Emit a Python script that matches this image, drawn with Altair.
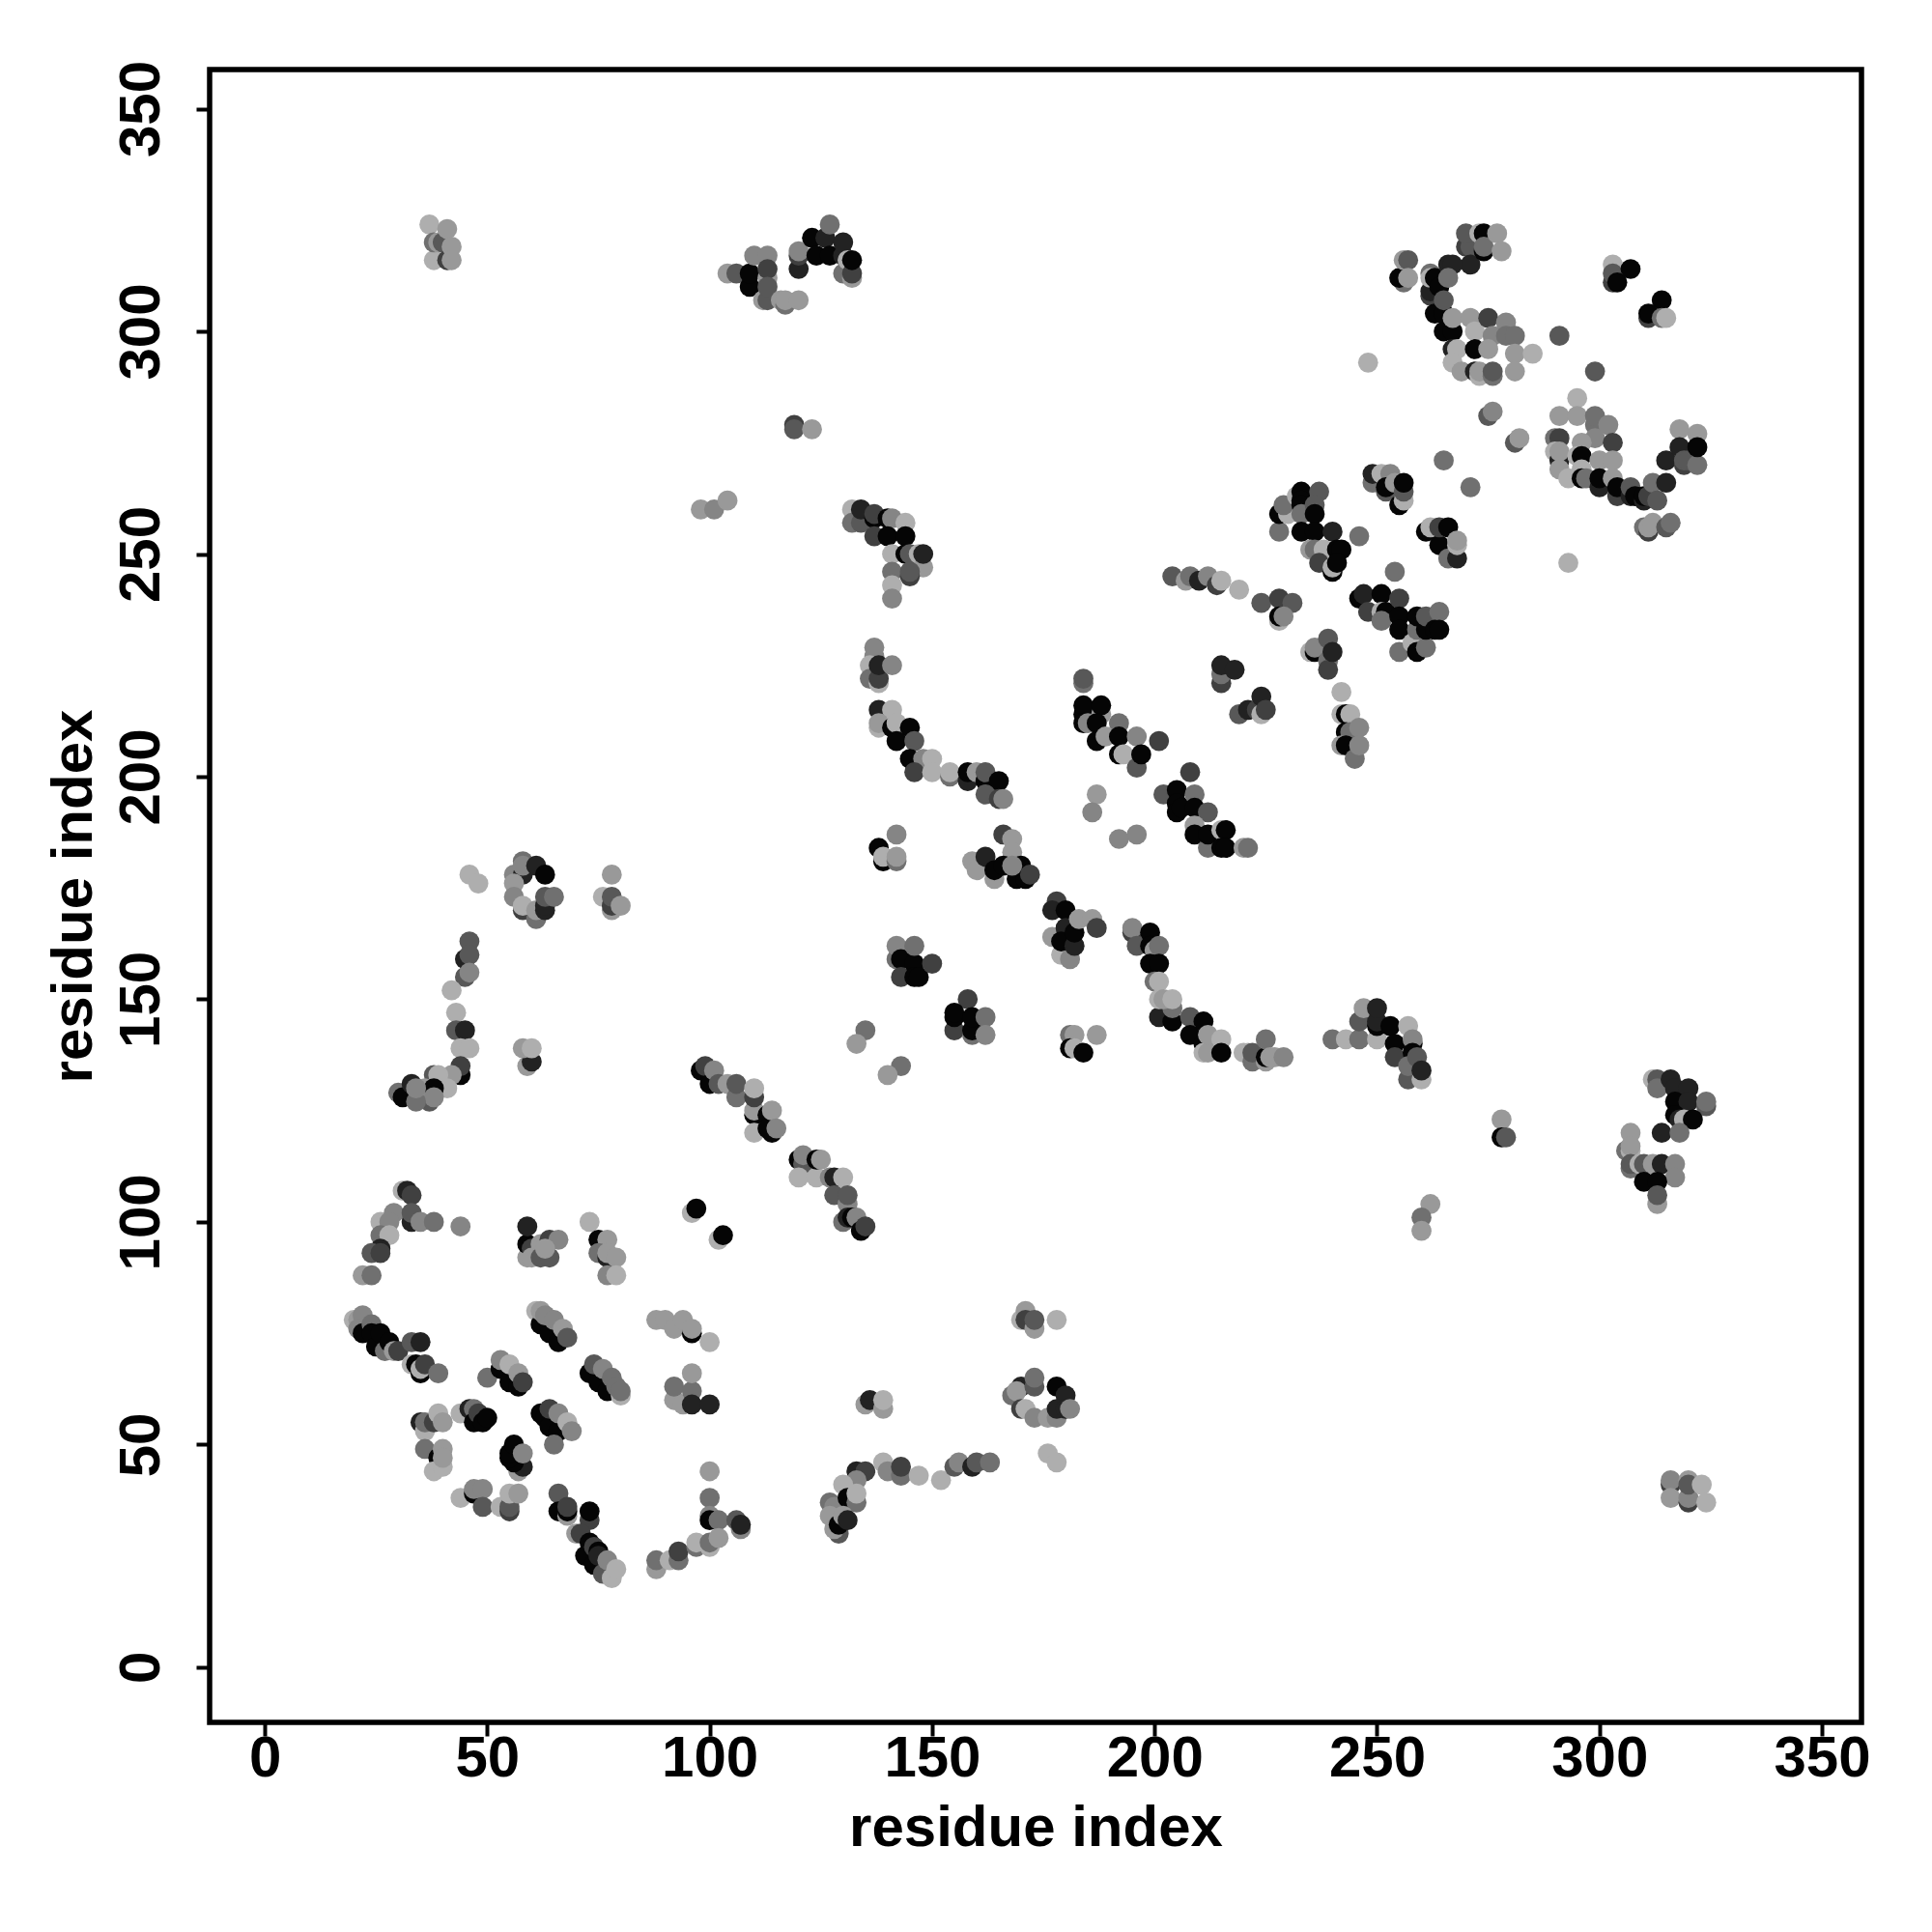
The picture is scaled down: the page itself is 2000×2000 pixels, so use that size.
import altair as alt
import pandas as pd

SHADES = {"a": "#050505", "b": "#222222", "c": "#404040", "d": "#585858",
          "e": "#707070", "f": "#858585", "g": "#999999", "h": "#aeaeae"}
TICKS = [0, 50, 100, 150, 200, 250, 300, 350]

lower_left = [
 (26,100,'h'),(29,102,'f'),(28,100,'f'),(26,97,'e'),(28,97,'h'),(26,94,'b'),(24,93,'d'),(26,93,'c'),(22,88,'g'),(24,88,'e'),
 (31,107,'h'),(32,107,'b'),(33,106,'c'),(33,100,'b'),(33,102,'d'),(35,100,'f'),(38,100,'e'),(44,99,'f'),
 (59,92,'g'),(59,95,'a'),(60,94,'c'),(59,99,'b'),(60,92,'g'),(62,95,'g'),(64,96,'c'),(66,96,'f'),(62,92,'d'),(64,92,'d'),(63,94,'g'),
 (73,100,'h'),(75,96,'a'),(77,96,'g'),(75,93,'e'),(77,92,'b'),(77,93,'g'),(79,92,'g'),(77,88,'f'),(79,88,'h'),
 (20,78,'h'),(21,78,'g'),(22,79,'f'),(21,76,'f'),(22,75,'a'),(24,77,'e'),(24,75,'a'),(25,72,'a'),(26,75,'a'),(27,71,'e'),(28,73,'a'),(29,71,'g'),(30,71,'c'),
 (33,73,'d'),(35,73,'b'),(33,68,'h'),(34,68,'a'),(35,66,'a'),(35,67,'h'),(36,68,'c'),(39,66,'e'),
 (50,65,'e'),(53,67,'a'),(55,64,'a'),(57,63,'a'),(53,69,'f'),(55,68,'h'),(57,66,'g'),(58,64,'c'),
 (61,80,'h'),(62,77,'a'),(64,75,'a'),(66,73,'a'),(62,80,'g'),(63,79,'f'),(65,78,'f'),(67,76,'g'),(68,74,'d'),
 (73,66,'a'),(75,64,'a'),(77,62,'a'),(74,68,'d'),(76,67,'f'),(78,65,'e'),(80,61,'h'),(79,63,'e'),(80,62,'e'),
 (44,57,'h'),(46,58,'b'),(47,58,'e'),(47,55,'a'),(48,57,'c'),(49,55,'a'),(50,56,'a'),
 (35,55,'b'),(36,53,'h'),(36,55,'e'),(38,55,'c'),(39,57,'h'),(40,55,'g'),
 (36,49,'e'),(39,47,'a'),(38,44,'h'),(40,45,'h'),(40,49,'g'),(40,47,'g'),
 (57,44,'g'),(58,45,'b'),(56,46,'a'),(55,47,'a'),(55,48,'a'),(56,50,'a'),(58,48,'f'),
 (62,57,'a'),(63,56,'a'),(64,54,'a'),(66,53,'a'),(65,50,'e'),(64,58,'c'),(66,57,'f'),(68,55,'h'),(69,53,'f'),
 (44,38,'h'),(47,39,'a'),(47,40,'f'),(49,40,'f'),(49,36,'d'),(53,36,'h'),(55,35,'c'),(55,36,'d'),(55,39,'h'),(57,39,'g'),
 (66,39,'d'),(66,35,'a'),(68,34,'g'),(68,35,'a'),(68,36,'c'),(73,33,'c'),(73,35,'a'),
 (70,30,'g'),(71,30,'c'),(72,25,'a'),(73,28,'a'),(74,27,'c'),(74,23,'a'),(75,26,'a'),(75,25,'b'),(76,21,'d'),(77,24,'f'),(78,20,'h'),(79,22,'h'),
 (88,22,'g'),(88,24,'e'),(91,24,'h'),(93,24,'e'),(93,26,'c'),(97,27,'e'),(97,28,'h'),
]

lower_mid = [
 (96,102,'h'),(97,103,'a'),(102,96,'h'),(103,97,'a'),
 (88,78,'g'),(90,78,'g'),(92,76,'g'),(94,78,'g'),(96,75,'a'),(96,76,'g'),(100,73,'h'),
 (92,60,'g'),(92,63,'e'),(94,59,'g'),(96,62,'e'),(96,59,'b'),(96,66,'g'),(100,59,'b'),
 (100,44,'g'),(100,38,'e'),(100,34,'f'),(100,33,'a'),(102,33,'e'),
 (100,27,'h'),(100,28,'e'),(102,29,'g'),(106,33,'d'),(107,31,'f'),(107,32,'b'),
 (135,59,'g'),(136,60,'b'),(139,58,'g'),(139,60,'h'),
 (133,44,'b'),(135,44,'c'),(133,42,'f'),(130,41,'h'),(127,37,'e'),(128,36,'f'),(131,38,'a'),(133,37,'e'),(133,39,'h'),
 (127,34,'g'),(129,30,'d'),(128,31,'g'),(129,32,'a'),(130,34,'g'),(131,33,'b'),
 (139,46,'h'),(140,44,'f'),(143,43,'e'),(143,45,'c'),(147,43,'h'),(152,42,'h'),(155,45,'d'),(156,46,'f'),(159,45,'b'),(160,46,'d'),(163,46,'e'),
 (170,78,'h'),(171,80,'g'),(171,78,'c'),(173,76,'g'),(173,78,'d'),(178,78,'h'),
 (168,61,'e'),(170,63,'b'),(169,62,'g'),(170,58,'c'),(171,58,'h'),(173,63,'d'),(173,65,'e'),(173,56,'f'),(176,56,'g'),
 (178,63,'a'),(180,61,'b'),(178,56,'f'),(178,58,'b'),(180,58,'b'),(181,58,'f'),(176,48,'h'),(178,46,'h'),
]

left_mid = [
 (46,178,'h'),(48,176,'h'),(56,178,'f'),(58,181,'e'),(58,178,'b'),(58,180,'f'),(61,180,'b'),(63,178,'a'),(56,176,'g'),(56,173,'f'),(58,170,'c'),(58,171,'h'),
 (61,168,'e'),(61,170,'g'),(63,170,'b'),(63,171,'b'),(63,173,'d'),(65,173,'e'),
 (78,178,'g'),(76,173,'h'),(78,170,'g'),(78,171,'c'),(78,173,'d'),(80,171,'g'),
 (46,163,'d'),(45,159,'b'),(46,160,'d'),(45,155,'d'),(46,156,'f'),(42,152,'h'),(43,147,'h'),(43,143,'d'),(45,143,'b'),(44,139,'h'),(46,139,'h'),
 (44,133,'a'),(44,135,'c'),(42,133,'g'),(41,130,'h'),(38,133,'d'),(39,133,'h'),(37,127,'d'),(36,130,'g'),(38,130,'a'),(38,128,'f'),
 (30,129,'e'),(31,128,'a'),(33,131,'b'),(34,127,'e'),(34,130,'f'),
 (59,135,'g'),(60,136,'b'),(58,139,'g'),(60,139,'h'),
]

diagonal = [
 (98,134,'a'),(99,135,'c'),(100,131,'a'),(101,134,'f'),(102,131,'d'),(104,131,'g'),(106,128,'e'),(106,131,'d'),(110,124,'a'),(110,125,'g'),(110,128,'c'),(110,130,'h'),
 (110,120,'h'),(113,124,'a'),(114,120,'a'),(113,121,'a'),(114,125,'g'),(115,121,'f'),
 (120,114,'a'),(121,113,'d'),(121,115,'f'),(120,110,'h'),(124,110,'h'),(124,114,'a'),(125,114,'g'),(127,110,'f'),(128,110,'b'),(130,110,'h'),
 (128,106,'d'),(131,104,'f'),(131,106,'d'),(130,100,'e'),(131,101,'b'),(132,101,'a'),(133,101,'f'),(134,98,'a'),(135,99,'c'),
]

top = [
 (104,313,'g'),(106,313,'d'),(109,310,'a'),(109,313,'a'),(110,317,'f'),(113,317,'f'),(113,312,'g'),(113,314,'c'),(112,307,'g'),(113,307,'d'),(113,310,'d'),
 (116,307,'g'),(117,306,'e'),(117,307,'g'),(120,307,'g'),(120,314,'b'),(120,317,'c'),(120,318,'f'),(123,321,'a'),(124,317,'a'),(126,321,'b'),(127,317,'a'),(127,324,'e'),
 (130,317,'b'),(130,320,'b'),(130,313,'e'),(132,312,'g'),(131,316,'h'),(132,313,'c'),(132,316,'a'),
 (37,324,'h'),(38,316,'h'),(38,320,'e'),(39,320,'g'),(40,320,'d'),(41,316,'c'),(41,323,'g'),(42,319,'g'),(42,316,'g'),
 (316,41,'c'),(316,42,'f'),(316,38,'g'),(320,42,'g'),(320,37,'c'),(320,38,'f'),(320,41,'d'),(323,41,'h'),(324,37,'h'),
]

centre = [
 (98,260,'g'),(101,260,'f'),(104,262,'g'),(119,279,'c'),(119,278,'d'),(123,278,'g'),
 (132,260,'h'),(132,257,'e'),(134,257,'d'),(134,260,'b'),(137,258,'a'),(137,259,'c'),(140,258,'a'),(141,258,'f'),(144,257,'h'),(137,254,'c'),(140,254,'a'),(144,254,'a'),
 (141,250,'h'),(144,250,'a'),(145,250,'d'),(147,250,'h'),(148,247,'g'),(148,250,'b'),(141,246,'e'),(145,245,'c'),(145,246,'d'),(141,243,'h'),(141,240,'f'),
 (137,227,'f'),(137,229,'f'),(136,225,'h'),(136,222,'e'),(138,221,'h'),(138,222,'c'),(138,225,'b'),(141,225,'f'),
 (138,215,'b'),(141,215,'h'),(138,211,'h'),(138,212,'g'),(141,211,'a'),(142,212,'h'),(145,211,'a'),(142,208,'a'),(146,208,'d'),(145,204,'a'),(148,204,'f'),(150,204,'h'),
 (146,201,'c'),(150,201,'h'),(154,200,'e'),(154,201,'h'),(158,199,'b'),(158,201,'a'),(160,201,'g'),(162,199,'a'),(162,201,'d'),(165,199,'a'),(162,196,'d'),(165,195,'c'),(166,195,'f'),
 (184,221,'e'),(184,222,'d'),(184,214,'a'),(184,216,'a'),(188,214,'g'),(188,216,'a'),(184,212,'a'),(185,212,'f'),(187,212,'a'),(192,212,'e'),(187,208,'a'),(189,209,'g'),(192,209,'a'),
 (192,205,'a'),(193,205,'h'),(196,202,'d'),(196,209,'f'),(197,205,'a'),(201,208,'c'),(208,201,'c'),
 (187,196,'g'),(186,192,'f'),(192,186,'f'),(196,187,'f'),
 (202,196,'d'),(205,197,'a'),(205,194,'a'),(205,192,'a'),(206,193,'a'),(209,196,'e'),(209,193,'a'),(212,192,'d'),(209,189,'g'),(209,187,'a'),(212,184,'e'),(212,187,'a'),(215,188,'h'),(216,188,'a'),
 (215,184,'a'),(216,184,'a'),(220,184,'g'),(221,184,'e'),
 (142,187,'f'),(138,184,'a'),(139,181,'a'),(139,182,'h'),(142,181,'e'),(142,182,'g'),
 (166,187,'c'),(168,186,'g'),(168,183,'g'),(159,181,'g'),(160,179,'g'),(164,177,'g'),(162,182,'b'),(164,179,'a'),(166,180,'a'),(169,177,'a'),(171,177,'a'),(170,180,'a'),(168,180,'f'),(172,178,'c'),
 (177,164,'g'),(179,160,'h'),(181,159,'f'),(178,172,'c'),(177,170,'b'),(180,170,'a'),(180,166,'b'),(179,163,'a'),(182,162,'b'),(182,165,'a'),(183,168,'g'),(186,168,'g'),(187,166,'c'),
 (195,165,'c'),(195,166,'f'),(196,162,'d'),(199,165,'a'),(199,162,'a'),(200,161,'g'),(201,162,'e'),(199,158,'a'),(201,158,'a'),(200,154,'e'),(201,154,'h'),
 (201,146,'b'),(204,145,'a'),(204,148,'e'),(201,150,'h'),(202,150,'g'),(204,150,'h'),(208,146,'d'),(208,142,'a'),(211,145,'a'),(211,140,'a'),(211,138,'h'),(212,138,'g'),(212,142,'g'),(215,141,'h'),(215,138,'a'),
 (142,159,'e'),(142,162,'f'),(143,159,'a'),(143,155,'c'),(146,158,'a'),(146,162,'e'),(146,155,'a'),(147,155,'a'),(150,158,'c'),
 (158,150,'c'),(155,143,'c'),(155,146,'a'),(155,147,'a'),(159,142,'e'),(159,143,'a'),(159,146,'a'),(162,146,'e'),(162,142,'f'),
 (135,143,'e'),(133,140,'g'),(143,135,'e'),(140,133,'g'),
 (181,142,'e'),(182,142,'g'),(187,142,'g'),(181,139,'a'),(182,139,'h'),(184,138,'a'),
 (220,138,'h'),(221,138,'h'),(222,136,'e'),(222,138,'d'),(225,136,'g'),(225,137,'a'),(225,141,'e'),(226,137,'g'),(227,137,'g'),(229,137,'f'),
 (240,141,'e'),(243,141,'h'),(246,141,'e'),(246,145,'d'),(247,148,'g'),(250,141,'h'),(250,144,'a'),(250,145,'b'),(250,148,'b'),(253,144,'a'),(254,140,'a'),(254,137,'c'),(257,144,'h'),
 (258,140,'a'),(258,141,'f'),(258,138,'a'),(257,132,'d'),(257,135,'e'),(259,137,'d'),(260,132,'h'),(260,134,'b'),
 (278,123,'g'),(278,119,'a'),(279,119,'d'),(262,104,'g'),(260,101,'e'),(260,98,'g'),
 (312,132,'h'),(313,132,'d'),(313,130,'e'),(316,132,'b'),(317,130,'b'),(320,130,'b'),(317,127,'a'),(320,127,'b'),(324,126,'d'),(324,127,'e'),(317,124,'a'),(318,123,'b'),(319,123,'h'),(321,123,'a'),(314,120,'b'),(318,120,'e'),
 (306,116,'e'),(307,120,'g'),(307,116,'h'),(307,117,'g'),(307,112,'e'),(307,113,'d'),(309,113,'h'),(310,113,'d'),(312,113,'g'),(314,113,'b'),(317,113,'f'),(317,110,'f'),(310,109,'a'),(313,109,'a'),(313,104,'g'),(313,106,'d'),
]

upper_right = [
 (204,245,'d'),(207,244,'g'),(208,245,'e'),(210,244,'b'),(212,245,'f'),(214,243,'c'),(215,244,'h'),(219,242,'h'),
 (215,221,'c'),(215,223,'e'),(215,225,'b'),(218,224,'b'),(219,214,'d'),(221,215,'b'),(223,215,'c'),(224,214,'h'),(224,218,'b'),(225,215,'c'),
 (224,239,'d'),(228,240,'c'),(231,239,'d'),(228,235,'h'),(228,236,'a'),(229,236,'f'),
 (235,228,'h'),(236,228,'a'),(236,229,'f'),(239,226,'e'),(239,224,'c'),(239,231,'d'),(240,228,'b'),
 (242,219,'h'),(242,214,'h'),(243,214,'a'),(244,214,'h'),(243,210,'a'),(244,210,'e'),(246,211,'f'),(242,207,'g'),(243,207,'a'),(245,204,'e'),(246,207,'f'),
 (228,255,'e'),(228,259,'a'),(230,259,'h'),(229,261,'e'),(232,263,'h'),(233,264,'a'),(233,262,'a'),(233,261,'a'),(233,259,'e'),(237,264,'d'),(236,261,'d'),(236,259,'a'),
 (233,255,'a'),(236,255,'a'),(240,255,'b'),(235,251,'g'),(236,251,'e'),(238,251,'h'),(241,251,'a'),(242,251,'a'),(237,248,'c'),(240,246,'a'),(240,247,'h'),(241,248,'a'),(246,254,'e'),
 (249,266,'e'),(249,268,'b'),(251,268,'h'),(253,268,'f'),(252,264,'d'),(252,265,'a'),(254,266,'g'),(255,261,'a'),(256,262,'h'),(256,264,'d'),(256,266,'a'),
 (261,255,'a'),(262,256,'h'),(264,252,'a'),(264,256,'c'),(266,256,'a'),(266,249,'e'),(268,249,'b'),(268,252,'h'),(268,253,'g'),
 (265,271,'e'),(271,265,'e'),(254,246,'e'),(293,248,'h'),
 (246,240,'a'),(247,241,'b'),(248,237,'c'),(251,241,'a'),(251,237,'h'),(252,237,'a'),(251,235,'e'),(255,240,'c'),(255,236,'a'),(255,233,'a'),
 (255,228,'e'),(258,230,'h'),(259,228,'a'),(261,229,'e'),(259,233,'e'),(259,236,'a'),(261,233,'a'),(261,236,'d'),(264,237,'e'),(263,233,'a'),(264,233,'a'),
 (270,319,'c'),(271,319,'d'),(270,322,'d'),(271,315,'b'),(273,322,'h'),(274,322,'a'),(274,318,'a'),(274,319,'e'),(277,322,'g'),(278,318,'g'),
 (256,311,'e'),(255,312,'a'),(256,316,'g'),(257,316,'d'),(257,312,'g'),
 (262,313,'e'),(262,308,'c'),(262,309,'b'),(262,312,'h'),(263,312,'a'),(264,310,'a'),(266,315,'b'),(267,315,'b'),(266,312,'e'),(263,304,'a'),(265,304,'a'),(265,307,'d'),
 (265,300,'a'),(267,300,'a'),(267,303,'g'),(271,303,'g'),(272,300,'h'),(275,303,'c'),(279,302,'f'),(276,299,'f'),(279,299,'e'),(281,299,'e'),
 (267,296,'b'),(268,296,'h'),(272,296,'a'),(275,296,'g'),(281,295,'g'),(285,295,'h'),(267,293,'h'),(269,291,'g'),(272,291,'b'),(273,290,'h'),(273,291,'g'),(276,290,'e'),(276,291,'d'),(281,291,'g'),
 (291,299,'d'),(299,291,'d'),(248,293,'h'),
 (303,311,'c'),(303,315,'h'),(303,313,'d'),(304,311,'a'),(307,314,'a'),(314,307,'a'),(311,303,'c'),(311,304,'a'),(314,303,'e'),(315,303,'h'),
 (275,281,'d'),(276,282,'f'),(281,275,'d'),(282,276,'g'),
 (295,285,'h'),(291,281,'g'),(295,281,'g'),(299,279,'e'),(299,281,'e'),(302,279,'f'),(290,276,'e'),(291,276,'c'),(299,276,'f'),(296,275,'g'),(303,275,'c'),
 (290,273,'h'),(291,271,'b'),(291,273,'g'),(291,269,'g'),(295,272,'h'),(296,272,'a'),(300,271,'g'),(303,271,'g'),(293,267,'h'),(296,269,'h'),(296,267,'a'),(297,267,'e'),
 (300,265,'b'),(300,267,'a'),(303,267,'g'),(304,263,'c'),(304,265,'a'),(307,263,'b'),(307,265,'d'),(308,263,'a'),(310,262,'b'),(310,263,'a'),(311,263,'c'),(312,266,'e'),(313,262,'d'),(315,266,'b'),
 (315,271,'b'),(318,278,'g'),(322,277,'g'),(318,274,'b'),(319,270,'c'),(319,271,'d'),(320,271,'d'),(322,270,'e'),(322,274,'a'),
 (310,256,'e'),(311,255,'c'),(311,256,'g'),(312,257,'g'),(315,256,'d'),(316,257,'e'),
]

regions = lower_left + lower_mid + left_mid + diagonal + top + centre + upper_right
xs = [p[0] for p in regions]
ys = [p[1] for p in regions]
tones = [SHADES[p[2]] for p in regions]
df = pd.DataFrame({"x": xs, "y": ys, "tone": tones})

FONT = "Liberation Sans"
common = dict(
    values=TICKS, grid=False, domain=False, tickColor="#000000", tickWidth=4, tickSize=14,
    labelFont=FONT, labelFontSize=60, labelFontWeight="bold", labelColor="#000000",
    titleFont=FONT, titleFontSize=60, titleFontWeight="bold", titleColor="#000000",
    title="residue index", labelOverlap=False, labelFlush=False,
)

chart = (
    alt.Chart(df)
    .mark_point(size=430, opacity=1, filled=True, shape="circle")
    .encode(
        x=alt.X("x:Q", scale=alt.Scale(domain=[-12.4, 358.9], nice=False, zero=False),
                axis=alt.Axis(labelPadding=-6, titlePadding=13, **common)),
        y=alt.Y("y:Q", scale=alt.Scale(domain=[-12.4, 358.8], nice=False, zero=False),
                axis=alt.Axis(labelAngle=270, labelAlign="center", labelBaseline="bottom",
                              labelPadding=26, titlePadding=9, **common)),
        color=alt.Color("tone:N", scale=None, legend=None),
    )
    .properties(
        width=1710, height=1711,
        padding={"left": 209, "top": 64, "right": 60, "bottom": 200},
        autosize=alt.AutoSizeParams(type="none"),
    )
    .configure_view(stroke="#000000", strokeWidth=5.5, fill="#ffffff")
)

chart.save("out.html", embed_options={"renderer": "svg", "actions": False})
